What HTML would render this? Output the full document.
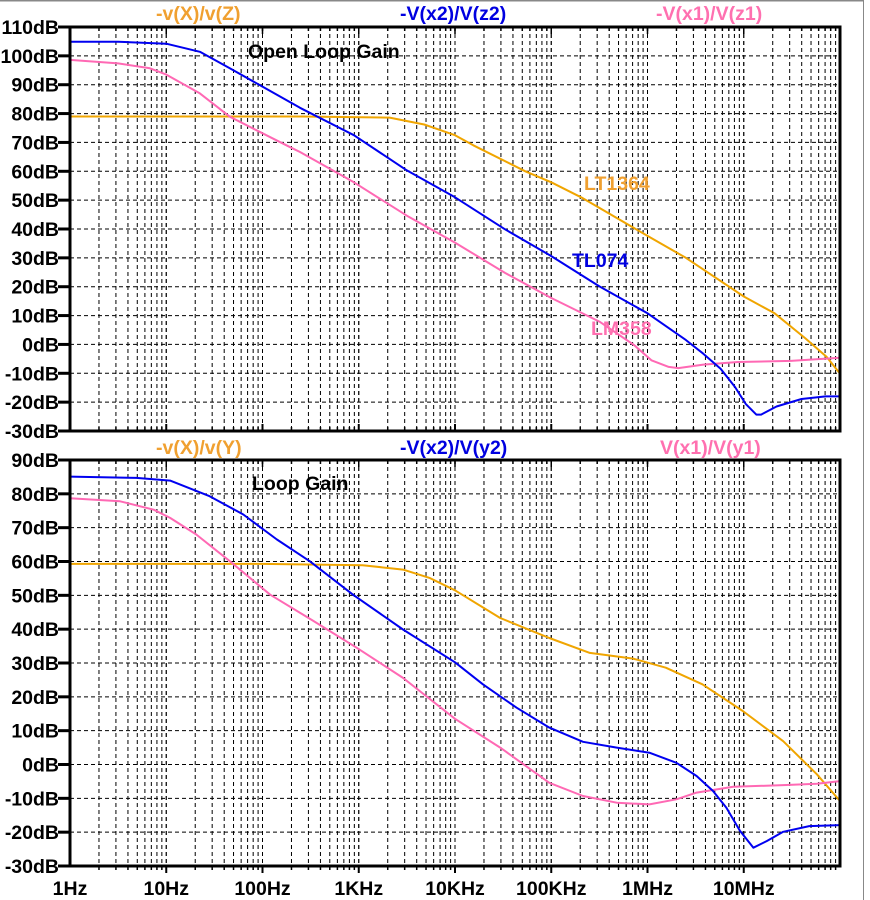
<!DOCTYPE html>
<html><head><meta charset="utf-8"><style>
html,body{margin:0;padding:0;background:#fff;}
svg{display:block;font-family:"Liberation Sans",Arial,sans-serif;font-weight:bold;}
</style></head><body>
<svg id="chart" width="870" height="900" viewBox="0 0 870 900" xmlns="http://www.w3.org/2000/svg">
<line x1="0" y1="0.5" x2="863" y2="0.5" stroke="#888" stroke-width="2"/>
<line x1="863.5" y1="0" x2="863.5" y2="900" stroke="#888" stroke-width="1"/>
<g id="grid"></g>
<g id="curves"></g>
<g id="frames"></g>
<g id="labels"></g>
<text x="156" y="20" font-size="19.5" fill="#f0a030">-v(X)/v(Z)</text>
<text x="400" y="20" font-size="19.5" fill="#0000e0">-V(x2)/V(z2)</text>
<text x="656" y="20" font-size="19.5" fill="#ff70b0">-V(x1)/V(z1)</text>
<text x="156" y="454" font-size="19.5" fill="#f0a030">-v(X)/v(Y)</text>
<text x="400" y="454" font-size="19.5" fill="#0000e0">-V(x2)/V(y2)</text>
<text x="660" y="454" font-size="19.5" fill="#ff70b0">V(x1)/V(y1)</text>
<text x="248" y="58" font-size="19.5" fill="#000">Open Loop Gain</text>
<text x="252" y="490" font-size="19.5" fill="#000">Loop Gain</text>
<text x="584" y="190" font-size="19.5" fill="#f0a030">LT1364</text>
<text x="572" y="267" font-size="19.5" fill="#0000e0">TL074</text>
<text x="591" y="335" font-size="19.5" fill="#ff70b0">LM358</text>
</svg>
<script>
// ---- data (log10 frequency, dB) ----
const xTickLabels = ["1Hz","10Hz","100Hz","1KHz","10KHz","100KHz","1MHz","10MHz"];
const topYTicks = [110,100,90,80,70,60,50,40,30,20,10,0,-10,-20,-30];
const botYTicks = [90,80,70,60,50,40,30,20,10,0,-10,-20,-30];

const olLT1364F = [0,1,2,2.41,3.32,3.68,4.0,4.19,4.73,5.0,5.31,6.0,6.4,7.0,7.32,7.64,7.86,8.0];
const olLT1364G = [79,79,79,79,78.6,76.2,72.5,69,60,56.2,51,37.6,30,16.6,10.8,2.1,-4.3,-10.1];
const olTL074F = [0,0.5,1.0,1.35,1.66,1.97,2.39,2.95,3.5,4.0,4.52,5.0,5.5,6.0,6.4,6.58,6.76,6.91,7.02,7.13,7.18,7.34,7.6,7.85,8.0];
const olTL074G = [104.9,104.9,104.2,101.4,95.7,89.9,82.0,72.5,60.3,51,39.9,30.6,20.1,10.8,1.5,-3.2,-8.4,-14.8,-20.6,-24.3,-24.3,-21.5,-18.9,-18,-18];
const olLM358F = [0,0.5,0.83,1.0,1.35,1.66,1.97,2.28,2.39,2.95,3.5,4.0,4.52,5.0,5.5,5.86,6.04,6.22,6.32,6.58,6.94,7.49,8.0];
const olLM358G = [98.6,97.4,95.7,93.5,87,78.9,73.7,68.5,66.7,56.2,44.6,35.3,24.8,16.1,7.9,-0.2,-5.5,-7.8,-8.2,-7,-6.1,-5.7,-4.6];

const lgLT1364F = [0,1,2,3.04,3.46,3.74,4.0,4.47,4.98,5.40,5.85,6.19,6.57,6.99,7.41,7.76,8.0];
const lgLT1364G = [59.3,59.3,59.3,58.9,57.6,55.1,51.5,43.3,37.4,33,31.3,28.6,23.7,15.8,6.9,-2.9,-10.8];
const lgTL074F = [0,0.69,1.04,1.45,1.8,2.15,2.49,2.94,3.46,4.0,4.29,4.64,4.98,5.33,5.68,6.02,6.30,6.51,6.68,6.82,6.96,7.10,7.24,7.41,7.68,8.0];
const lgTL074G = [85.1,84.7,83.9,79.3,73.9,66.5,60.1,50.2,39.9,30.2,23.7,16.8,10.9,6.7,5.0,3.5,0.5,-3.4,-7.8,-12.8,-19.6,-24.6,-22.6,-19.9,-18.2,-17.9];
const lgLM358F = [0,0.52,0.87,1.04,1.31,1.66,2.08,2.53,2.98,3.46,4.0,4.47,4.98,5.33,5.68,6.02,6.30,6.51,6.89,7.41,7.76,8.0];
const lgLM358G = [78.7,77.8,75.3,72.9,68,60.1,50.2,42.4,34.5,25.6,13.5,5.0,-5.4,-9.3,-11.3,-11.8,-10.3,-8.3,-6.6,-6.1,-5.7,-4.9];

// ---- geometry ----
const NS="http://www.w3.org/2000/svg";
const X0=70, X1=840, DEC=(X1-X0)/8;
const panels=[
 {name:"open-loop",top:27,bot:431,max:110,min:-30,ticks:topYTicks},
 {name:"loop",top:460,bot:866,max:90,min:-30,ticks:botYTicks}
];
function xScale(lf){return X0+lf*DEC;}
function yScale(p,db){return p.top+(p.max-db)/(p.max-p.min)*(p.bot-p.top);}
function mk(tag,attrs,parent){const e=document.createElementNS(NS,tag);for(const k in attrs)e.setAttribute(k,attrs[k]);parent.appendChild(e);return e;}
const grid=document.getElementById('grid'),curves=document.getElementById('curves'),frames=document.getElementById('frames'),labels=document.getElementById('labels');

panels.forEach(p=>{
  for(let d=0;d<8;d++){for(let m=1;m<=10;m++){
    if(d===0&&m===1)continue;
    const x=xScale(d+Math.log10(m));
    if(x>=X1-1)continue;
    const l=mk('line',{x1:x,y1:p.top,x2:x,y2:p.bot,stroke:'#000','stroke-width':1,'stroke-dasharray':'4,3'},grid);
    
    
    const tl=(m===10)?7:4;
    const t=mk('line',{x1:x,y1:p.bot,x2:x,y2:p.bot+(p.name==='loop'?tl:-tl),stroke:'#000','stroke-width':(m===10?2:1.5)},frames);
    
    
    const t2=mk('line',{x1:x,y1:p.top,x2:x,y2:p.top+tl,stroke:'#000','stroke-width':1.5},frames);
    
    
  }}
  p.ticks.forEach(v=>{
    const y=yScale(p,v);
    if(v!==p.max&&v!==p.min){
      const l=mk('line',{x1:X0,y1:y,x2:X1,y2:y,stroke:'#000','stroke-width':1,'stroke-dasharray':'4,3'},grid);
      
      
    }
    const t=mk('line',{x1:X0-12,y1:y,x2:X0,y2:y,stroke:'#000','stroke-width':3},frames);
    
    
    const tx=mk('text',{x:X0-11,y:y+7,'text-anchor':'end','font-size':19.5,fill:'#000'},labels);
    tx.textContent=v+'dB';
    
    
  });
  const fr=mk('rect',{x:X0,y:p.top,width:X1-X0,height:p.bot-p.top,fill:'none',stroke:'#000','stroke-width':3},frames);
  
  
});

function drawCurve(p,F,G,color,name){
  let d='';
  F.forEach((f,i)=>{d+=(i?'L':'M')+xScale(f).toFixed(1)+','+yScale(p,G[i]).toFixed(1);});
  const pa=mk('path',{d:d,fill:'none',stroke:color,'stroke-width':2,'stroke-linejoin':'round'},curves);
  
  
}
const ORANGE='#f0a500',BLUE='#0000f0',PINK='#ff69b4';
drawCurve(panels[0],olLT1364F,olLT1364G,ORANGE,'open-loop-lt1364-curve');
drawCurve(panels[0],olLM358F,olLM358G,PINK,'open-loop-lm358-curve');
drawCurve(panels[0],olTL074F,olTL074G,BLUE,'open-loop-tl074-curve');
drawCurve(panels[1],lgLT1364F,lgLT1364G,ORANGE,'loop-gain-lt1364-curve');
drawCurve(panels[1],lgLM358F,lgLM358G,PINK,'loop-gain-lm358-curve');
drawCurve(panels[1],lgTL074F,lgTL074G,BLUE,'loop-gain-tl074-curve');

xTickLabels.forEach((s,i)=>{
  const t=mk('text',{x:xScale(i),y:895,'text-anchor':'middle','font-size':19.5,fill:'#000'},labels);
  t.textContent=s;
  
  
});
</script>
</body></html>
